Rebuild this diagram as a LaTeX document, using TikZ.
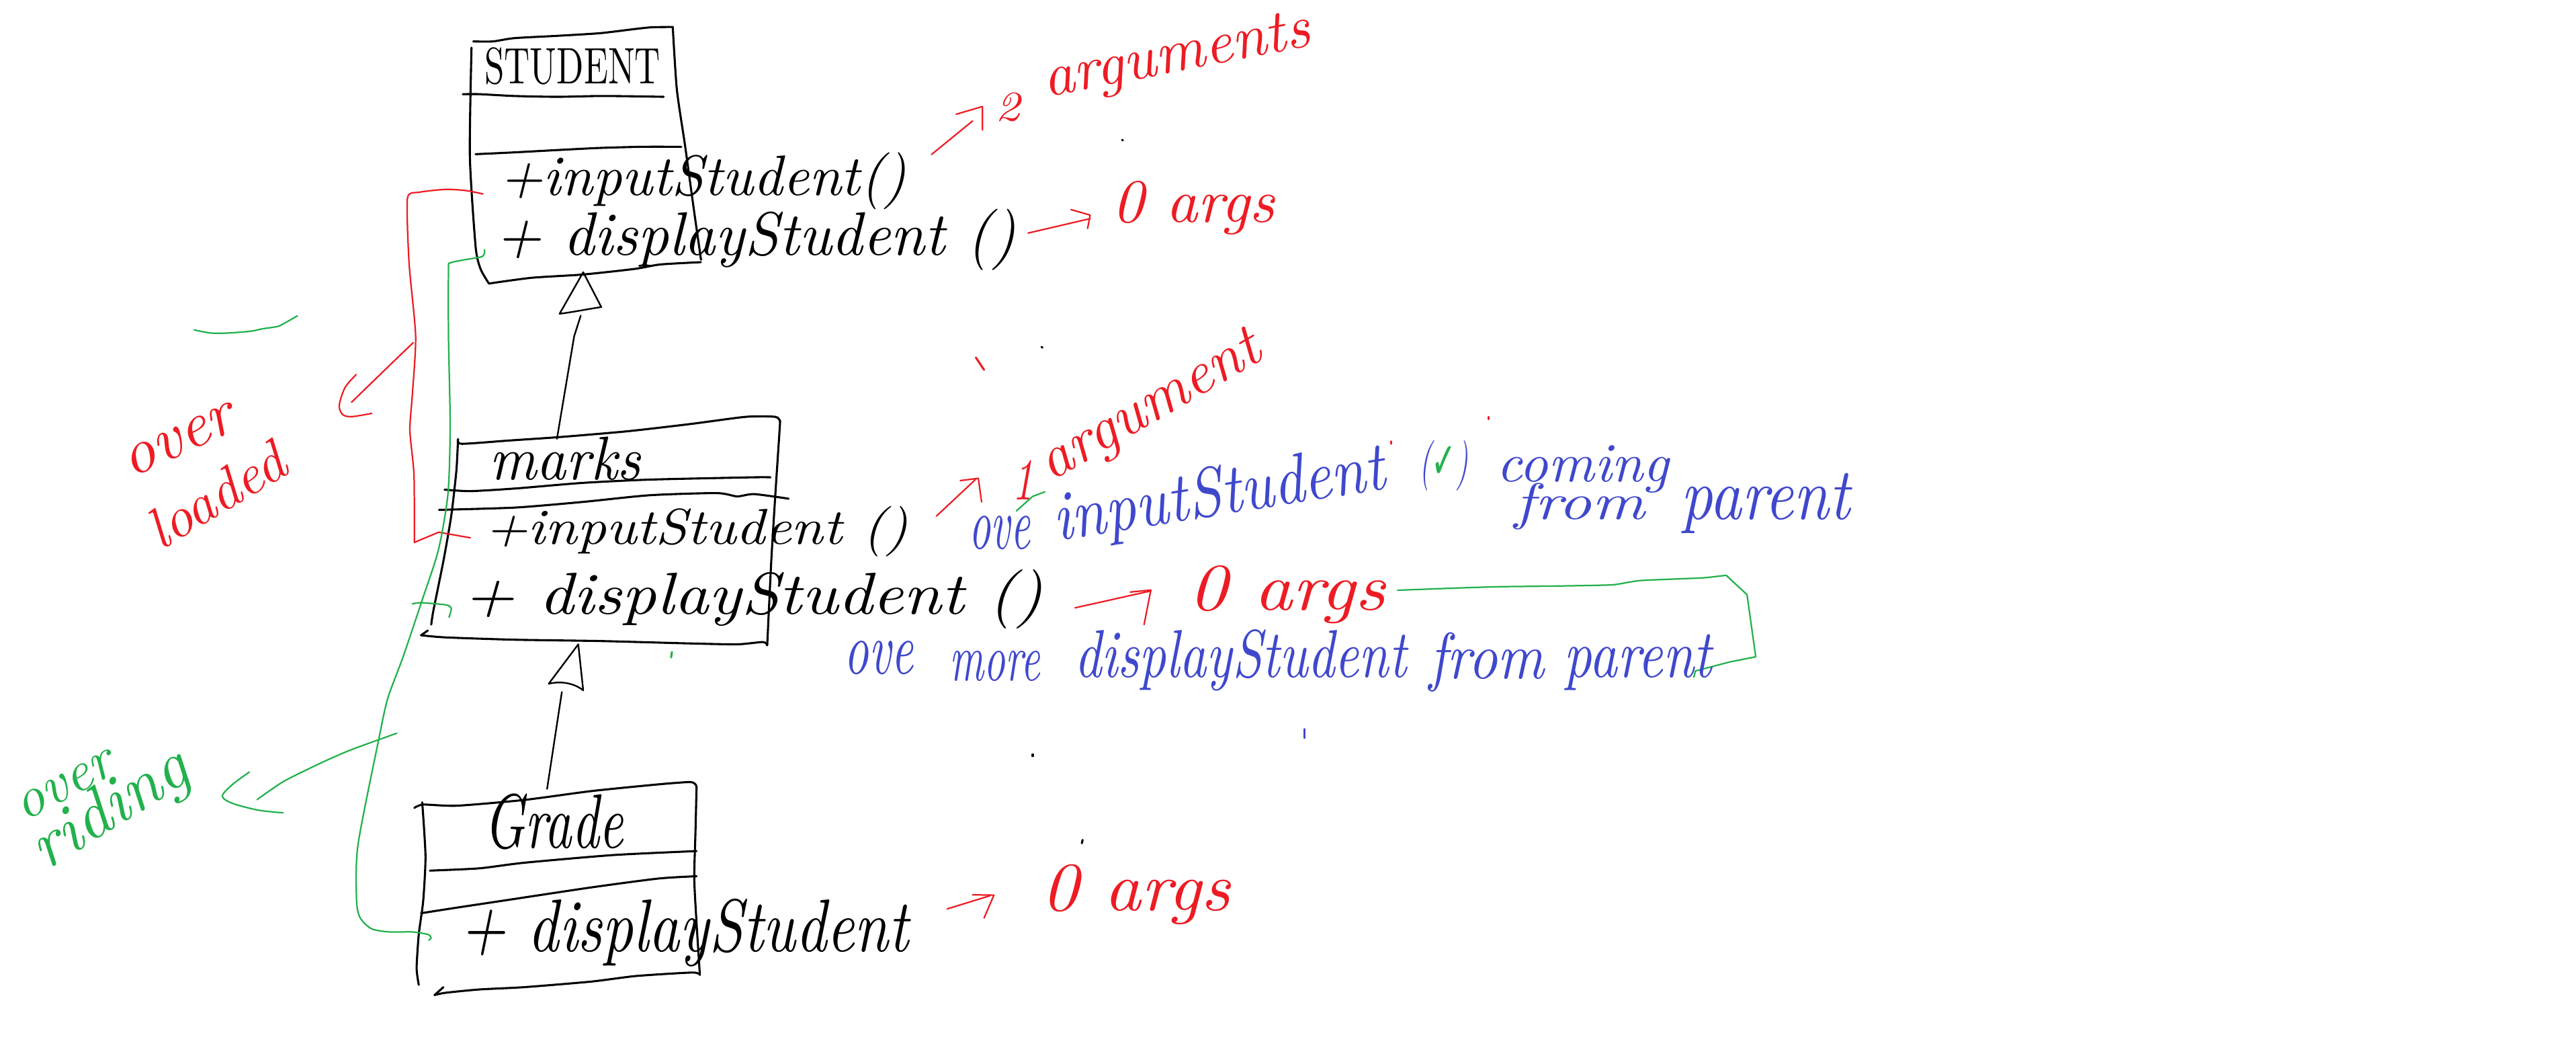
\documentclass[tikz,border=0pt]{standalone}
\usepackage{fontspec}
\usepackage{graphicx}
\newfontfamily\symfont{DejaVu Sans}
\newlength\hwu
\setlength\hwu{0.025cm}
\newcommand\fitw[2]{\resizebox{#1\hwu}{!}{#2}}
\newcommand\fitwh[3]{\resizebox{#1\hwu}{#2\hwu}{#3}}
\definecolor{inkred}{RGB}{237,28,36}
\definecolor{inkgreen}{RGB}{34,177,76}
\definecolor{inkblue}{RGB}{63,72,204}
\tikzset{
  hw/.style={inner sep=0pt, outer sep=0pt, anchor=base west, font=\itshape},
  boxline/.style={draw=black, line width=0.9pt, line cap=round, line join=round},
  inkline/.style={draw=black, line width=0.7pt, line cap=round, line join=round},
  redline/.style={draw=inkred, line width=0.65pt, line cap=round, line join=round},
  greenline/.style={draw=inkgreen, line width=0.65pt, line cap=round, line join=round},
  speck/.style={line width=0.9pt, line cap=round},
}
\begin{document}
\begin{tikzpicture}[x=0.025cm, y=-0.025cm]
\path[use as bounding box, fill=white] (0,0) rectangle (1568,641);

% ---------------- STUDENT box ----------------
\draw[boxline] plot[smooth, tension=0.4] coordinates {(288,25.2) (300,25.2) (313,23.2) (339,21.8) (365,20.2) (386,17.7) (396.5,16.6) (409.5,16.4)};
\draw[boxline] plot[smooth, tension=0.4] coordinates {(409.5,16.4) (412,54.5) (417,88.6) (422,125) (426.7,158)};
\draw[boxline] plot[smooth, tension=0.4] coordinates {(426.6,159.5) (401.9,160.9) (386.3,163.6) (355,167) (323.6,169) (297.6,172.5)};
\draw[boxline] plot[smooth, tension=0.4] coordinates {(297.6,172.5) (292.5,163.6) (289.5,150) (286,95) (287,29)};
\draw[boxline] plot[smooth, tension=0.4] coordinates {(281.7,57.3) (292,57.3) (313,58.4) (339,58.9) (365,58.4) (386,58.6) (404,58.9)};
\draw[boxline] plot[smooth, tension=0.4] coordinates {(289.5,93.8) (313,92.7) (339,91.3) (365,90) (391,89.3) (414.7,89.3)};
\node[hw] (tStudent) at (295,51) {\fitwh{107}{22}{\upshape STUDENT}};
\node[hw] (sIn) at (304,119) {\fitwh{248}{26}{+inputStudent()}};
\node[hw] (sDisp) at (301.5,155.4) {\fitwh{317}{28}{+ displayStudent ()}};

% ---------------- marks box ----------------
\draw[boxline] plot[smooth, tension=0.4] coordinates {(278.8,267.2) (281.1,270) (310,268) (340.8,265.9) (381.7,262.4) (420,258) (453.9,253.6) (472,253.6) (474.7,256.3)};
\draw[boxline] plot[smooth, tension=0.4] coordinates {(474.7,256.3) (474.7,259) (472,300) (469.5,340.7) (467,392.6)};
\draw[boxline] plot[smooth, tension=0.4] coordinates {(467,392.6) (464.4,390.6) (448.6,392) (417.3,391.4) (365.2,390) (313,389.2) (271.3,387.8) (256.3,386.5)};
\draw[boxline] (256.3,386.5) -- (260.4,383.6);
\draw[boxline] plot[smooth, tension=0.4] coordinates {(278.8,267.2) (277.8,286.3) (274.7,313.6) (270,340.8) (263.8,371.5) (262.5,380)};
\draw[boxline] plot[smooth, tension=0.4] coordinates {(270.6,297.9) (286.3,298.8) (313.6,297.2) (354.5,293.8) (395.4,291.8) (458,290.4) (469,290.4)};
\draw[boxline] plot[smooth, tension=0.4] coordinates {(267.2,310.2) (313.6,308.8) (354.5,305.4) (395.4,301.3) (436.3,300) (448.7,302) (459,300.6) (480,303.4)};
\node[hw] (tMarks) at (298,291.7) {\fitwh{92}{26}{marks}};
\node[hw] (mIn) at (295,331) {\fitwh{258}{23}{+inputStudent ()}};
\node[hw] (mDisp) at (282,373.5) {\fitwh{353}{27}{+ displayStudent ()}};

% ---------------- Grade box ----------------
\draw[boxline] plot[smooth, tension=0.4] coordinates {(252.2,491.5) (257.7,489.5) (278.1,490.2) (319,486.7) (359.9,481.3) (400.8,477.2) (419.9,475.8) (423.3,477.2) (424,478.6)};
\draw[boxline] plot[smooth, tension=0.4] coordinates {(424,478.6) (423.3,507.2) (422.6,534.5) (424,561.7) (426,593.1)};
\draw[boxline] plot[smooth, tension=0.4] coordinates {(426,593.1) (421.3,591.7) (387.2,593.8) (359.9,597.2) (319,600.6) (291.7,602) (271.3,604) (264.5,605.4)};
\draw[boxline] (264.5,605.4) -- (269.9,600.6);
\draw[boxline] plot[smooth, tension=0.4] coordinates {(257,488.1) (259,520.8) (257.6,548.1) (254.9,568.5) (253.6,589) (254.9,599.2)};
\draw[boxline] plot[smooth, tension=0.4] coordinates {(261.7,529.7) (291.7,528.3) (319,524.9) (373.5,520.2) (424,517.8)};
\draw[boxline] plot[smooth, tension=0.4] coordinates {(256.3,555.6) (278.1,552.2) (305.4,548.1) (359.9,539.9) (400.8,534.5) (424,533.1)};
\node[hw] (tGrade) at (294.5,516) {\fitwh{85}{33}{Grade}};
\node[hw] (gDisp) at (280,579) {\fitwh{273}{32}{+ displayStudent}};

% ---------------- inheritance arrows ----------------
\coordinate (inh1apex) at (355,165.6);
\coordinate (inh1l) at (340.6,190.9);
\coordinate (inh1r) at (366,186.8);
\coordinate (inh1s) at (353.5,192);
\coordinate (inh1e) at (339,267);
\draw[inkline] (inh1l) -- (inh1apex) -- (inh1r) .. controls (358,188) and (348,190) .. (inh1l);
\draw[inkline] (inh1s) -- (349.5,204.5) -- (inh1e);

\coordinate (inh2apex) at (352,392);
\coordinate (inh2l) at (334,416);
\coordinate (inh2r) at (355,420);
\coordinate (inh2s) at (342,421);
\coordinate (inh2e) at (333,480);
\draw[inkline] (inh2l) -- (inh2apex) -- (inh2r) .. controls (350,416) and (342,414) .. (inh2l);
\draw[inkline] (inh2s) -- (inh2e);

% ---------------- red annotations ----------------
\coordinate (r1s) at (567,94);
\coordinate (r1e) at (592,73.6);
\draw[redline] (r1s) -- (r1e);
\draw[redline] (582,69.5) -- (598,64.8) -- (598,79);
\node[hw, text=inkred] (two) at (605.7,73.6) {\fitwh{15}{17}{2}};
\node[hw, text=inkred, rotate=11] (argsS) at (637,59) {\fitw{165}{arguments}};

\coordinate (r2s) at (625.8,141.8);
\coordinate (r2e) at (663.6,133);
\draw[redline] (r2s) -- (r2e);
\draw[redline] (651.9,127.5) -- (663.6,130.9) -- (662,139);
\node[hw, text=inkred] (zeroS) at (677,135) {\fitwh{99}{25}{0 args}};

\coordinate (r3s) at (570,314);
\coordinate (r3e) at (593.8,291.7);
\draw[redline] (r3s) -- (r3e);
\draw[redline] (584.5,292.4) -- (595.5,291) -- (597.5,305.4);
\node[hw, text=inkred] (one) at (616,304) {\fitwh{13}{24}{1}};
\node[hw, text=inkred, rotate=30] (argM) at (640,293) {\fitw{150}{argument}};

\coordinate (r4s) at (654.4,369.8);
\coordinate (r4e) at (700.6,359.5);
\draw[redline] (r4s) -- (r4e);
\draw[redline] (688,360.2) -- (700.5,359) -- (696.4,380);
\node[hw, text=inkred] (zeroM) at (723.5,371) {\fitwh{120}{27}{0 args}};

\coordinate (r5s) at (576.5,553);
\coordinate (r5e) at (602.5,545);
\draw[redline] (r5s) -- (r5e);
\draw[redline] (592,544.4) -- (605,544.6) -- (599,558.5);
\node[hw, text=inkred] (zeroG) at (634,554) {\fitwh{115}{28}{0 args}};

% overloaded bracket
\coordinate (olTop) at (294,118);
\coordinate (olBot) at (286.3,327.2);
\draw[redline] plot[smooth, tension=0.4] coordinates {(294,118) (284,116) (271.5,115.2) (255,117) (248,120.7) (249,160) (253,204.5) (251,240) (249.5,262) (252,289) (252.2,330)} -- (267,323.8) -- (olBot);
\coordinate (olA) at (251.5,208.5);
\coordinate (olB) at (214,244.7);
\draw[redline] (olA) -- (240,219.5) -- (olB);
\draw[redline] plot[smooth, tension=0.5] coordinates {(216.8,227.9) (210,235.8) (206.5,246.7) (208.6,252.2) (214,253.5) (226.3,251.5)};
\node[hw, text=inkred, rotate=25] (over1) at (80,291) {\fitw{72}{over}};
\node[hw, text=inkred, rotate=31] (loaded) at (98,335) {\fitw{92}{loaded}};

% ---------------- green annotations ----------------
\coordinate (orTop) at (295,152);
\coordinate (orBot) at (261,572);
\draw[greenline] plot[smooth, tension=0.45] coordinates {(295,152) (293.7,156) (283,158) (274,160) (273,164) (273,205) (274,259) (272.7,300) (267,334) (257,365) (245.4,399.5) (236,425) (230.5,450) (217.9,514) (217,546.7) (219,558) (226,565) (237,567) (251,567) (260.4,568.5) (262.4,570.6) (261,572)};
\draw[greenline] plot[smooth, tension=0.45] coordinates {(251,367.4) (256.3,366.7) (271.3,368) (274.7,370) (273.3,375.6)};
\coordinate (gaS) at (241.5,446.1);
\coordinate (gaE) at (156.5,486.5);
\draw[greenline] plot[smooth, tension=0.4] coordinates {(241.5,446.1) (213.9,456.1) (196.6,463.6) (173,475.2) (156.5,486.5)};
\draw[greenline] plot[smooth, tension=0.5] coordinates {(151.8,469.7) (141.6,477.2) (135.3,484.3) (141.6,488.8) (157.3,492.9) (172.3,494.5)};
\node[hw, text=inkgreen, rotate=28] (over2) at (15,500) {\fitw{64}{over}};
\node[hw, text=inkgreen, rotate=32] (riding) at (28,530) {\fitw{106}{riding}};
\draw[greenline] plot[smooth, tension=0.5] coordinates {(118.2,200.7) (128.2,202.6) (139,202.6) (152.7,201.5) (159.5,200.1) (169,198.6) (173,196.7) (181,192.2)};
\coordinate (gbS) at (850.7,359.1);
\coordinate (gbE) at (1031,412);
\draw[greenline] plot[smooth, tension=0.3] coordinates {(850.7,359.1) (880,358) (910.3,357) (950,356.5) (981.6,355.8) (998.4,353.2) (1036,351.6) (1050.7,350)} -- (1063.4,361.8) -- (1068.7,399.6) -- (1053,402.7) -- (1032,408.2) -- (gbE);
\draw[greenline] (618.7,310.8) -- (628.6,302) -- (636,299.2);

% ---------------- blue annotations ----------------
\node[hw, text=inkblue] (ove1) at (590,334) {\fitwh{37}{20}{ove}};
\node[hw, text=inkblue, rotate=9] (inS) at (643,329) {\fitwh{204}{30}{inputStudent}};
\node[hw, text=inkblue] (chk) at (864,291) {\fitwh{30}{23}{(\textcolor{inkgreen}{\upshape\symfont ✓})}};
\node[hw, text=inkblue] (coming) at (911,293) {\fitwh{105}{22}{coming}};
\node[hw, text=inkblue] (from1) at (922,316) {\fitwh{79}{22}{from}};
\node[hw, text=inkblue] (parent1) at (1023,316) {\fitwh{103}{28}{parent}};
\node[hw, text=inkblue] (ove2) at (514,410) {\fitwh{42}{20}{ove}};
\node[hw, text=inkblue] (more) at (578,414) {\fitwh{55}{18}{more}};
\node[hw, text=inkblue] (dispS) at (654,412) {\fitwh{202}{29}{displayStudent}};
\node[hw, text=inkblue] (from2) at (870,413) {\fitwh{70}{28}{from}};
\node[hw, text=inkblue] (parent2) at (952,412) {\fitwh{90}{26}{parent}};

% ---------------- specks ----------------
\draw[speck, black] (683,85) -- (683.5,85.5);
\draw[speck, black] (634,211) -- (634.5,211.5);
\draw[speck, black] (628.6,459) -- (628.6,460);
\draw[speck, black] (659,511) -- (658.5,513);
\draw[speck, inkred] (594,217.5) -- (599,225);
\draw[speck, inkred] (906,253.6) -- (906,255);
\draw[speck, inkred] (846.6,268.5) -- (846.6,270);
\draw[speck, inkblue] (794,443.6) -- (794,449);
\draw[speck, inkgreen] (409,396.7) -- (408.5,400);
\end{tikzpicture}
\end{document}
